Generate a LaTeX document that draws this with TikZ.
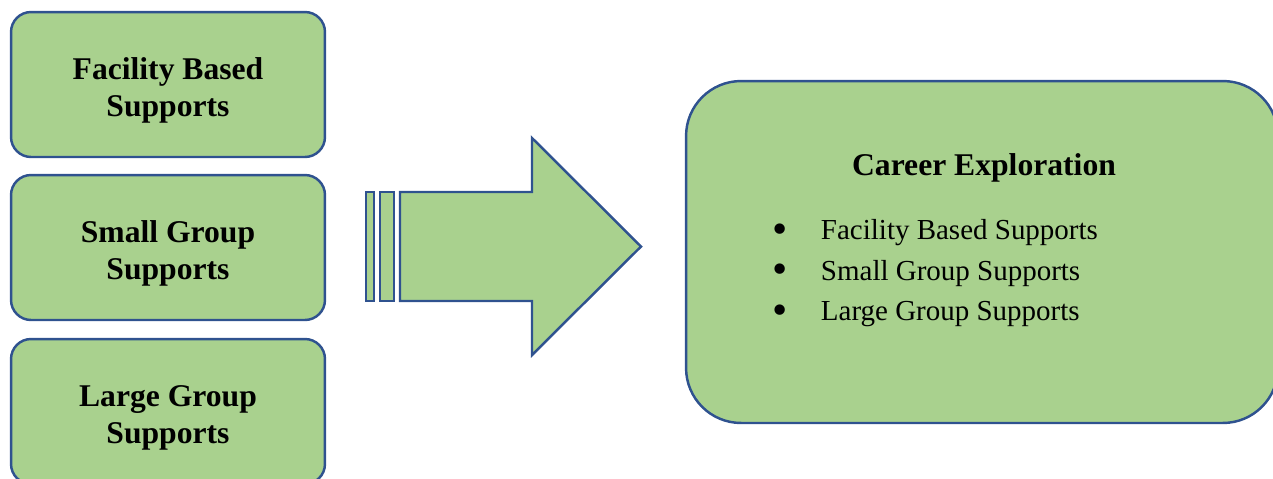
\documentclass[tikz,border=0pt]{standalone}
\usepackage{fontspec}
\setmainfont{Liberation Serif}
\definecolor{boxgreen}{HTML}{A9D18E}
\definecolor{boxblue}{HTML}{2F528F}
\newcommand{\boxstrut}{\rule{0pt}{19pt}}
\newcommand{\bigbullet}{\raisebox{-2.2pt}{\scalebox{1.5}{\textbullet}}}

\begin{document}
\begin{tikzpicture}[x=0.02cm,y=-0.02cm,
        shapeline/.style={draw=boxblue,fill=boxgreen,line width=1.4pt},
        supportbox/.style={shapeline,rounded corners=0.4cm,minimum width=6.28cm,minimum height=2.9cm,
            align=center,font=\fontsize{18}{21}\selectfont\bfseries}]
        \clip (0,0) rectangle (1273,478);

        \node[supportbox] (facility) at (168,84.5) {\boxstrut Facility Based\\Supports};
        \node[supportbox] (small) at (168,247.5) {\boxstrut Small Group\\Supports};
        \node[supportbox] (large) at (168,411.5) {\boxstrut Large Group\\Supports};

        \draw[shapeline] (366,192) rectangle (374,301);
        \draw[shapeline] (380,192) rectangle (394,301);
        \draw[shapeline] (400,192) -- (532,192) -- (532,138) -- (641,246.5) -- (532,355) -- (532,301) -- (400,301) -- cycle;

        \node[shapeline,rounded corners=1.1cm,minimum width=11.84cm,minimum height=6.84cm] (career) at (982,252) {};
        \node[font=\fontsize{18}{21}\selectfont\bfseries] (title) at (984,168) {Career Exploration};
        \node[anchor=west,inner sep=0pt,font=\fontsize{16.5}{23}\selectfont] (list) at (772,272) {%
            \begin{tabular}{@{}l@{\hspace{19pt}}l@{}}
            \bigbullet & Facility Based Supports\\
            \bigbullet & Small Group Supports\\
            \bigbullet & Large Group Supports
            \end{tabular}};
\end{tikzpicture}
\end{document}
